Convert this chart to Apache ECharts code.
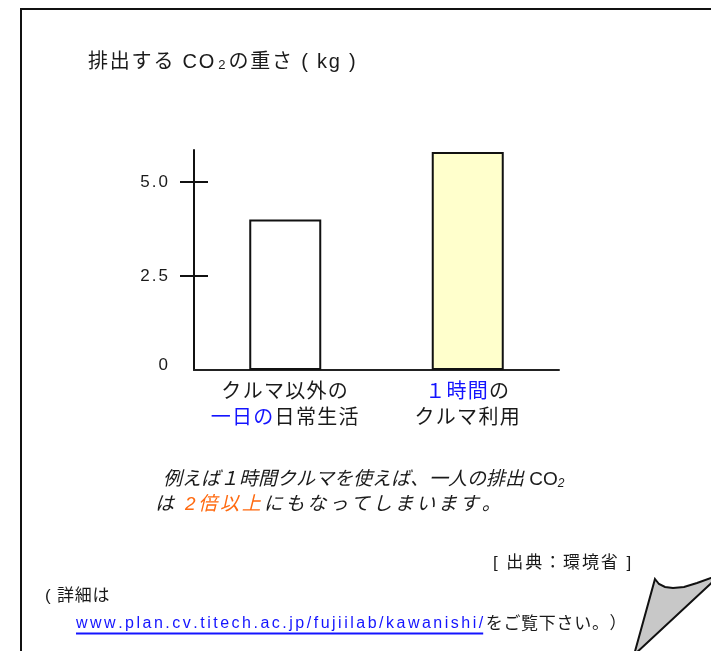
<!DOCTYPE html>
<html>
<head>
<meta charset="utf-8">
<script src="https://cdn.jsdelivr.net/npm/echarts@6/dist/echarts.min.js"></script>
<style>
html, body { margin: 0; padding: 0; background: #ffffff; }
#main { width: 711px; height: 651px; }
</style>
</head>
<body>
<div id="main"></div>
<script>
// Category labels (rich-text markup marks the blue highlighted words)
const categories = ['クルマ以外の\n{b|一日の}日常生活', '{b|１時間}の\nクルマ利用'];
// CO2 emitted per person (kg)
const co2Kg = [4.0, 5.8];
// Value-axis tick marks and labels
const yTickValues = [2.5, 5.0];
const yLabelValues = [0, 2.5, 5.0];
const yAxisMax = 5.85;

const barFills = ['#ffffff', '#ffffcc'];
const INK = '#1a1a1a';
const BLUE = '#1414ff';
const ORANGE = '#ff6a10';
const FAMILY = '"Liberation Sans", "Noto Sans CJK JP", sans-serif';

const url = 'www.plan.cv.titech.ac.jp/fujiilab/kawanishi/';
const urlFont = '16px "Liberation Sans", sans-serif';
const urlSpacing = 2.5;

// Turn "{style|text}plain" markup into one rich token per character,
// so each character can carry right padding (letter spacing).
function perChar(markup, plainStyle) {
  const out = [];
  const re = /\{(\w+)\|([^}]*)\}|([^{]+)/g;
  let m;
  while ((m = re.exec(markup))) {
    const style = m[1] || plainStyle;
    const text = m[1] ? m[2] : m[3];
    for (const ch of text) out.push(ch === '\n' ? '\n' : '{' + style + '|' + ch + '}');
  }
  return out.join('');
}

// width of the letter-spaced link, for the underline
function spacedWidth(text, font, spacing) {
  const ctx = document.createElement('canvas').getContext('2d');
  ctx.font = font;
  let w = 0;
  for (const ch of text) w += ctx.measureText(ch).width + spacing;
  return w;
}
const urlStartX = 76;
const urlWidth = spacedWidth(url, urlFont, urlSpacing);

const pad = s => [0, s, 0, 0];

const chart = echarts.init(document.getElementById('main'), null, { renderer: 'canvas' });

const sharedY = { type: 'value', min: 0, max: yAxisMax, position: 'left', offset: 0, splitLine: { show: false } };
const catRich = (color) => ({ color: color, fontSize: 20, lineHeight: 26, fontFamily: FAMILY, padding: pad(1.3) });
const yRich = { color: INK, fontSize: 17, fontFamily: FAMILY, padding: pad(2) };

chart.setOption({
  animation: false,
  backgroundColor: '#ffffff',
  grid: { left: 194, right: 152, top: 150, bottom: 281, containLabel: false },
  xAxis: {
    type: 'category',
    data: categories,
    axisLine: { show: true, lineStyle: { color: '#222', width: 2 } },
    axisTick: { show: false },
    axisLabel: {
      interval: 0,
      hideOverlap: false,
      margin: 9,
      color: INK,
      fontSize: 20,
      lineHeight: 26,
      fontFamily: FAMILY,
      formatter: v => perChar(v, 'p'),
      rich: { p: catRich(INK), b: catRich(BLUE) }
    }
  },
  yAxis: [
    Object.assign({}, sharedY, {
      axisLine: { show: true, lineStyle: { color: '#111', width: 2 } },
      axisTick: { show: true, customValues: yTickValues, length: 14, lineStyle: { color: '#111', width: 2 } },
      axisLabel: {
        customValues: yLabelValues,
        margin: 24,
        color: INK,
        fontSize: 17,
        fontFamily: FAMILY,
        formatter: v => (v === 0 ? '{z|0}' : perChar(v.toFixed(1), 'd')),
        rich: { d: yRich, z: Object.assign({}, yRich, { padding: [0, 2, 9, 0] }) }
      }
    }),
    Object.assign({}, sharedY, {
      axisLine: { show: false },
      axisTick: { show: true, inside: true, customValues: yTickValues, length: 14, lineStyle: { color: '#111', width: 2 } },
      axisLabel: { show: false }
    })
  ],
  series: [{
    type: 'bar',
    data: co2Kg,
    barWidth: 72,
    silent: true,
    itemStyle: {
      color: p => barFills[p.dataIndex],
      borderColor: '#111',
      borderWidth: 2
    }
  }],
  graphic: [
    // page frame
    { type: 'rect', z: 0, silent: true, shape: { x: 21, y: 9, width: 720, height: 700 },
      style: { fill: 'none', stroke: '#111', lineWidth: 2 } },
    // heading
    { type: 'text', x: 88, y: 62, silent: true,
      style: {
        text: perChar('排出する CO{s|2}の重さ ( kg )', 'h'),
        font: '20px ' + FAMILY, fill: INK, verticalAlign: 'middle', align: 'left',
        rich: {
          h: { font: '20px ' + FAMILY, fill: INK, padding: pad(1.8) },
          s: { font: '13px ' + FAMILY, fill: INK, verticalAlign: 'bottom', padding: [0, 3, 0, 2] }
        }
      } },
    // caption
    { type: 'text', x: 163, y: 480, silent: true,
      style: {
        text: '例えば１時間クルマを使えば、一人の排出 {n|CO}{s|2}',
        font: 'italic 19px ' + FAMILY, fill: INK, verticalAlign: 'middle', align: 'left',
        rich: {
          n: { font: '19px ' + FAMILY, fill: INK },
          s: { font: 'italic 12px ' + FAMILY, fill: INK, verticalAlign: 'bottom' }
        }
      } },
    { type: 'text', x: 155, y: 505, silent: true,
      style: {
        text: perChar('は {o|2倍以上}にもなってしまいます。', 'i'),
        font: 'italic 19px ' + FAMILY, fill: INK, verticalAlign: 'middle', align: 'left',
        rich: {
          i: { font: 'italic 19px ' + FAMILY, fill: INK, padding: pad(2.8) },
          o: { font: 'italic 19px ' + FAMILY, fill: ORANGE, padding: pad(2.8) }
        }
      } },
    // source
    { type: 'text', x: 633, y: 563, silent: true,
      style: {
        text: perChar('[ 出典：環境省 ]', 'c'),
        font: '17px ' + FAMILY, fill: INK, verticalAlign: 'middle', align: 'right',
        rich: { c: { font: '17px ' + FAMILY, fill: INK, padding: pad(1.9) } }
      } },
    { type: 'text', x: 45, y: 596, silent: true,
      style: {
        text: perChar('( 詳細は', 'c'),
        font: '17px ' + FAMILY, fill: INK, verticalAlign: 'middle', align: 'left',
        rich: { c: { font: '17px ' + FAMILY, fill: INK, padding: pad(0.8) } }
      } },
    { type: 'text', x: urlStartX, y: 624, silent: true,
      style: {
        text: perChar('{u|' + url + '}をご覧下さい。）', 't'),
        font: urlFont, fill: INK, verticalAlign: 'middle', align: 'left',
        rich: {
          u: { font: urlFont, fill: BLUE, padding: pad(urlSpacing) },
          t: { font: '17px ' + FAMILY, fill: INK, padding: pad(0.7) }
        }
      } },
    { type: 'line', silent: true,
      shape: { x1: urlStartX, y1: 633.5, x2: urlStartX + urlWidth - urlSpacing, y2: 633.5 },
      style: { stroke: BLUE, lineWidth: 2 } },
    // curled page corner
    { type: 'polygon', silent: true,
      shape: { points: [[655, 579], [659, 584], [665, 587], [673, 588], [684, 587], [697, 583], [711, 578], [719, 576], [634, 655]] },
      style: { fill: '#c8c8c8', stroke: '#111', lineWidth: 2, lineJoin: 'miter' } }
  ]
});
</script>
</body>
</html>
